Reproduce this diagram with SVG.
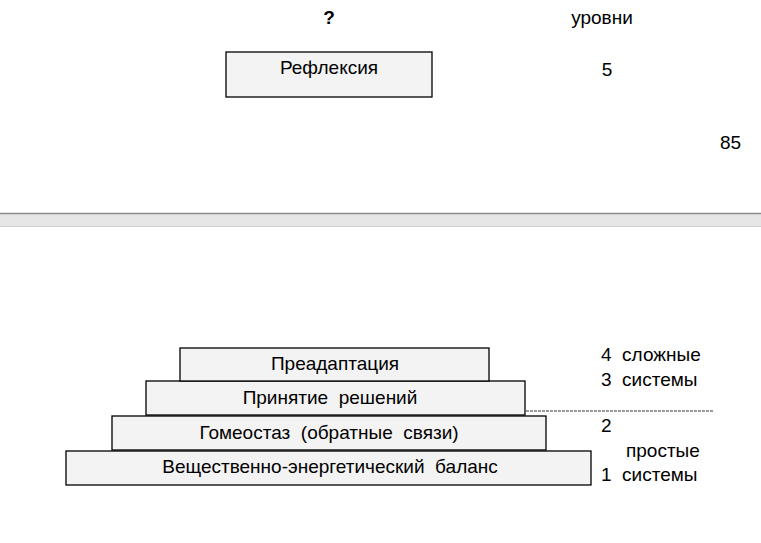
<svg xmlns="http://www.w3.org/2000/svg" width="761" height="543" viewBox="0 0 761 543">
<style>
.b{fill:#f3f3f3;stroke:#000;stroke-width:1.3}
.t{font-family:"Liberation Sans",Arial,sans-serif;font-size:19px;fill:#000;white-space:pre}
.m{text-anchor:middle}
</style>
<rect width="761" height="543" fill="#fff"/>
<rect x="0" y="213" width="761" height="14" fill="#e6e6e6"/>
<line x1="0" y1="213.5" x2="761" y2="213.5" stroke="#8a8a8a" stroke-width="1.5"/>
<line x1="0" y1="226.5" x2="761" y2="226.5" stroke="#d0d0d0" stroke-width="1"/>
<text class="t m" x="329" y="24" font-weight="bold">?</text>
<text class="t m" x="602" y="24">уровни</text>
<g id="n-refl"><rect class="b" x="226" y="52" width="206" height="45"/><text class="t m" x="329" y="74">Рефлексия</text></g>
<text class="t m" x="607" y="76">5</text>
<text class="t" x="720" y="149" font-size="15">85</text>
<g id="n1"><rect class="b" x="66" y="451" width="525" height="34"/><text class="t m" x="330" y="473" xml:space="preserve">Вещественно-энергетический  баланс</text></g>
<g id="n2"><rect class="b" x="112" y="416" width="434" height="34"/><text class="t m" x="329" y="439" xml:space="preserve">Гомеостаз  (обратные  связи)</text></g>
<g id="n3"><rect class="b" x="146" y="381" width="379" height="34"/><text class="t m" x="330" y="404" xml:space="preserve">Принятие  решений</text></g>
<g id="n4"><rect class="b" x="180" y="348" width="309" height="33"/><text class="t m" x="335" y="370">Преадаптация</text></g>
<g id="labels">
<text class="t" x="601" y="361" xml:space="preserve">4  сложные</text>
<text class="t" x="601" y="386" xml:space="preserve">3  системы</text>
<text class="t" x="601" y="432">2</text>
<text class="t" x="626" y="457">простые</text>
<text class="t" x="601" y="481" xml:space="preserve">1  системы</text>
</g>
<g id="connectors"><line x1="526" y1="411" x2="713" y2="411" stroke="#333" stroke-width="1" stroke-dasharray="3,1"/></g>
</svg>
